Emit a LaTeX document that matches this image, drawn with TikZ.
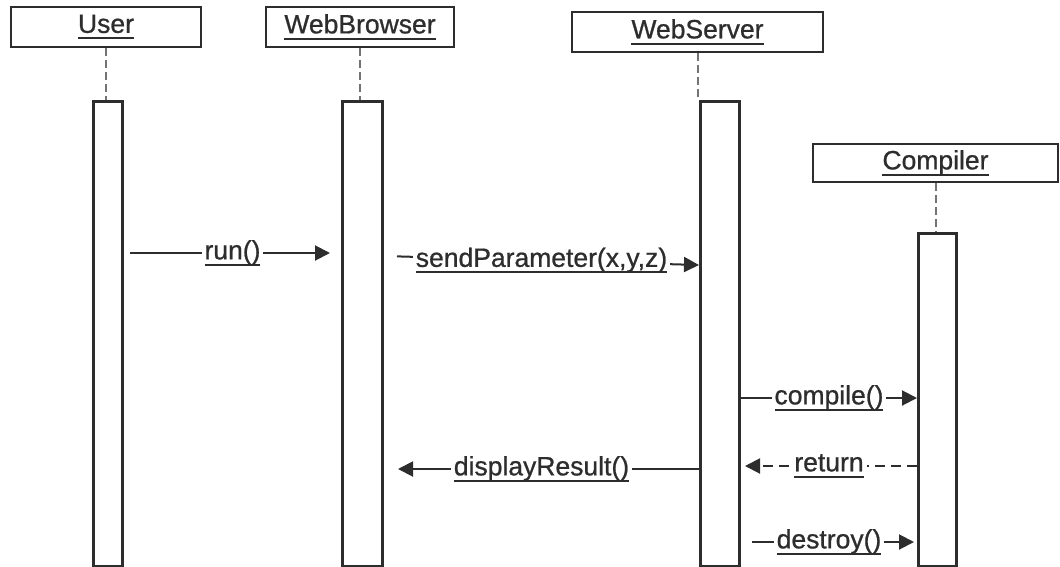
\documentclass[tikz,border=0pt]{standalone}
\usepackage{fontspec}
\setmainfont{Liberation Sans}[FakeBold=0.8]
\usetikzlibrary{arrows.meta}
\definecolor{inkgray}{RGB}{45,45,45}
\definecolor{dashgray}{RGB}{115,115,115}
\newcommand{\uname}[1]{\setbox0\hbox{#1}\rlap{\rule[-6.5pt]{\wd0}{2pt}}\box0}
\tikzset{
	every node/.append style={
		font=\fontsize{26.5}{30}\selectfont,
		text=inkgray,
	},
	object/.append style={
		draw=inkgray,
		fill=white,
		line width=2pt,
		inner sep=0pt,
	},
	bar/.append style={
		draw=inkgray,
		fill=white,
		line width=3pt,
		inner sep=0pt,
	},
	lifeline/.append style={
		draw=dashgray,
		line width=2pt,
		dash pattern=on 8pt off 4pt,
	},
	msg/.append style={
		draw=inkgray,
		line width=2pt,
		-{Triangle[length=15pt,width=15pt]},
	},
	reply/.append style={
		msg,
		dash pattern=on 10pt off 6pt,
	},
	labe/.append style={
		fill=white,
		inner xsep=3pt,
		inner ysep=1pt,
	},
}

\begin{document}
\begin{tikzpicture}[x=1pt, y=-1pt]
		\useasboundingbox (0,0) rectangle (1060,566);

		\node(user)[object, minimum width=190pt, minimum height=40pt] at (106,27) {\uname{User}};
		\node(browser)[object, minimum width=188pt, minimum height=40pt] at (360,27) {\uname{WebBrowser}};
		\node(server)[object, minimum width=251pt, minimum height=40pt] at (697.5,32) {\uname{WebServer}};
		\node(compiler)[object, minimum width=245pt, minimum height=38pt] at (935.5,163) {\uname{Compiler}};

		% activation bars
		\node(userbar)[bar, anchor=north, minimum width=29pt, minimum height=465pt] at (108,99.5) {};
		\node(browserbar)[bar, anchor=north, minimum width=40pt, minimum height=465pt] at (362.5,99.5) {};
		\node(serverbar)[bar, anchor=north, minimum width=39pt, minimum height=465pt] at (720,99.5) {};
		\node(compilerbar)[bar, anchor=north, minimum width=38pt, minimum height=333pt] at (937.5,231.5) {};

		\draw[lifeline] (user.south) -- (user.south |- userbar.north);
		\draw[lifeline] (browser.south) -- (browser.south |- browserbar.north);
		\draw[lifeline] (server.south) -- (server.south |- serverbar.north);
		\draw[lifeline] (compiler.south) -- (compiler.south |- compilerbar.north);

		\coordinate(runrow) at (0,253);
		\coordinate(sendrow) at (0,256);
		\coordinate(sendend) at (0,265);
		\coordinate(compilerow) at (0,398);
		\coordinate(returnrow) at (0,466);
		\coordinate(displayrow) at (0,469);
		\coordinate(destroyrow) at (0,542);

		\draw[msg, shorten <=6pt, shorten >=11pt] (userbar.east |- runrow) -- node[labe] {\uname{run()}} (browserbar.west |- runrow);
		\draw[msg, shorten <=13pt] (browserbar.east |- sendrow) -- node[labe] {\uname{sendParameter(x,y,z)}} (serverbar.west |- sendend);
		\draw[msg] (serverbar.east |- compilerow) -- node[labe] {\uname{compile()}} (compilerbar.west |- compilerow);
		\draw[reply, shorten >=4pt] (compilerbar.west |- returnrow) -- node[labe] {\uname{return}} (serverbar.east |- returnrow);
		\draw[msg, shorten >=14pt] (serverbar.west |- displayrow) -- node[labe] {\uname{displayResult()}} (browserbar.east |- displayrow);
		\draw[msg, shorten <=11pt, shorten >=3pt] (serverbar.east |- destroyrow) -- node[labe] {\uname{destroy()}} (compilerbar.west |- destroyrow);
\end{tikzpicture}
\end{document}
